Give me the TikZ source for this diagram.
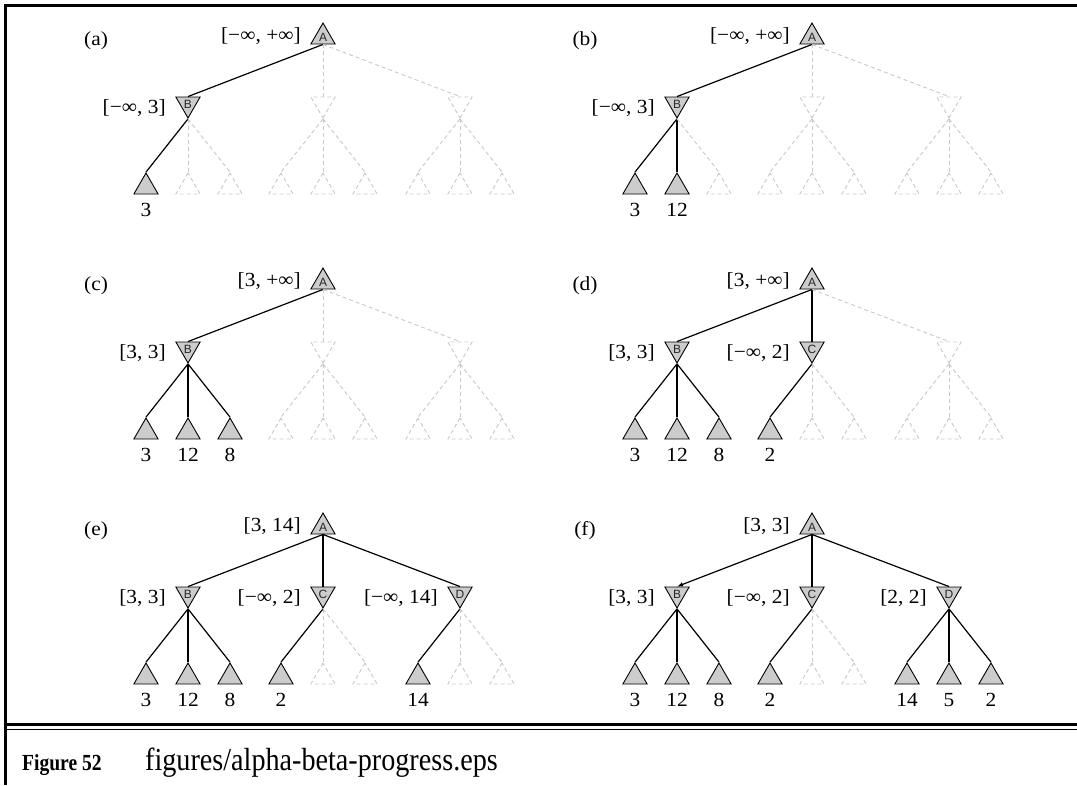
\documentclass[tikz,border=0pt]{standalone}
\usepackage{fontspec}
\setmainfont{Liberation Serif}
\newfontfamily\letterfont{Liberation Sans}
\usepackage{tikz}
\usetikzlibrary{shapes.geometric, arrows.meta}
\definecolor{nodegray}{RGB}{204, 204, 204}
\definecolor{prunegray}{RGB}{200, 200, 200}
\def\nomark{-}

% one snapshot of the search: #1 tag, #2/#3 offset, #4 bound of A,
% #5-#7 bounds of B, C, D (- = not reached), #8 leaf values, #9 extra keys
\newcommand{\searchstep}[9]{%
  \begin{scope}[shift={(#2,#3)}, #9]
    \node[tag] (#1tag) at (96,41) {(#1)};
    \node[seen] (#1A) at (323,37) {A};
    \node[bound, anchor=east] (#1Ab) at (302,36) {#4};
    % min level
    \foreach \mx/\ml/\bnd [count=\i] in {188/B/{#5},323/C/{#6},460/D/{#7}} {
      \edef\tmpa{\bnd}%
      \ifx\tmpa\nomark \def\nodestyle{unseen}\def\linestyle{unseenedge}%
      \else \def\nodestyle{seen}\def\linestyle{seenedge}\fi
      \edef\tmpb{\noexpand\node[\nodestyle, shape border rotate=180] (#1m\i) at (\mx,104)
                   {\ifx\tmpa\nomark\else\ml\fi};
                 \noexpand\draw[\linestyle, fork\i] (#1A.side 2) -- (#1m\i.side 2);}\tmpb
      \ifx\tmpa\nomark\else \node[bound, anchor=east] (#1mb\i) at (\mx-21,108) {\bnd};\fi
    }
    % leaves
    \foreach \lv [count=\k] in {#8} {
      \pgfmathtruncatemacro{\lx}{{146,188,230,281,323,365,418,460,502}[\k-1]}
      \pgfmathtruncatemacro{\m}{(\k+2)/3}
      \edef\tmpa{\lv}%
      \ifx\tmpa\nomark \def\nodestyle{unseen}\def\linestyle{unseenedge}%
      \else \def\nodestyle{seen}\def\linestyle{seenedge}\fi
      \edef\tmpb{\noexpand\node[\nodestyle] (#1l\k) at (\lx,187) {};
                 \noexpand\draw[\linestyle] (#1m\m.corner 1) -- (#1l\k.corner 1);}\tmpb
      \ifx\tmpa\nomark\else \node[value] (#1v\k) at (\lx,210) {\lv};\fi
    }
  \end{scope}}

\begin{document}
\begin{tikzpicture}[x=1pt, y=-1pt,
    tri/.style={regular polygon, regular polygon sides=3, minimum size=28pt,
                inner sep=0pt, line width=0.9pt},
    seen/.style={tri, draw=black, fill=nodegray,
                 font=\letterfont\fontsize{12}{12}\selectfont, text=black!85},
    unseen/.style={tri, draw=prunegray, dash pattern=on 4pt off 3pt},
    seenedge/.style={draw=black, line width=1.2pt},
    unseenedge/.style={draw=prunegray, line width=0.9pt, dash pattern=on 4pt off 3pt},
    bound/.style={font=\fontsize{20}{20}\selectfont, xscale=1.07, inner sep=1pt},
    value/.style={bound},
    tag/.style={bound},
    fork1/.style={}, fork2/.style={}, fork3/.style={},
    fignum/.style={font=\bfseries\fontsize{23}{23}\selectfont, xscale=0.85, inner sep=0pt},
    figname/.style={font=\fontsize{32}{32}\selectfont, xscale=0.88, inner sep=0pt},
]
\useasboundingbox (0,0) rectangle (1077,785);

%% ── snapshots (a)-(f) ───────────────────────────────────────────────────────
\searchstep{a}{0}{0}{[−∞, +∞]}{[−∞, 3]}{-}{-}{3,-,-,-,-,-,-,-,-}{}
\searchstep{b}{489}{0}{[−∞, +∞]}{[−∞, 3]}{-}{-}{3,12,-,-,-,-,-,-,-}{}
\searchstep{c}{0}{245}{[3, +∞]}{[3, 3]}{-}{-}{3,12,8,-,-,-,-,-,-}{}
\searchstep{d}{489}{245}{[3, +∞]}{[3, 3]}{[−∞, 2]}{-}{3,12,8,2,-,-,-,-,-}{}
\searchstep{e}{0}{490}{[3, 14]}{[3, 3]}{[−∞, 2]}{[−∞, 14]}{3,12,8,2,-,-,14,-,-}{}
\searchstep{f}{489}{490}{[3, 3]}{[3, 3]}{[−∞, 2]}{[2, 2]}{3,12,8,2,-,-,14,5,2}%
  {fork1/.style={-{Latex[length=6pt, width=4.5pt]}}}

%% ── frame and caption ───────────────────────────────────────────────────────
\draw[line width=2.5pt] (5.5,785) -- (5.5,5.5) -- (1077,5.5);
\draw[line width=3pt]   (5.5,724.5) -- (1077,724.5);
\draw[line width=1.2pt] (5.5,729.5) -- (1077,729.5);
\node[fignum,  anchor=base west] (fignum)  at (22,770)  {Figure 52};
\node[figname, anchor=base west] (figname) at (145,770) {figures/alpha-beta-progress.eps};

\end{tikzpicture}
\end{document}
